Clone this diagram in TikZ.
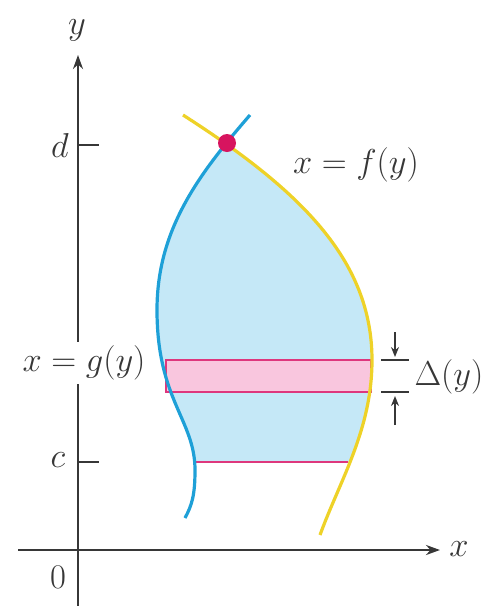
\documentclass[tikz,border=0pt]{standalone}
\usetikzlibrary{arrows.meta}
\definecolor{gblue}{RGB}{30,160,215}
\definecolor{fyellow}{RGB}{238,210,40}
\definecolor{regfill}{RGB}{197,232,247}
\definecolor{stripfill}{RGB}{249,198,222}
\definecolor{stripline}{RGB}{222,55,125}
\definecolor{dotcol}{RGB}{215,20,95}
\definecolor{axcol}{RGB}{55,55,55}
\begin{document}
\begin{tikzpicture}[x=0.5pt,y=-0.5pt,
  lbl/.style={font=\fontsize{18}{20}\selectfont, inner sep=1pt, text=axcol},
  axis/.style={draw=axcol, line width=1.4pt},
  curveg/.style={draw=gblue, line width=1.6pt},
  curvef/.style={draw=fyellow, line width=1.6pt},
  tickmark/.style={draw=axcol, line width=1.2pt},
  striprect/.style={draw=stripline, fill=stripfill, line width=1.4pt},
  deltaarrow/.style={draw=axcol, line width=1pt, -{Stealth[length=5pt,width=4pt]}}]
\useasboundingbox (0,0) rectangle (487,606);
% region fill: right of g, left of f, between c and d
\begin{scope}
  \clip (250,115) .. controls (198,175) and (157,230) .. (157,310)
        .. controls (157,400) and (195,420) .. (195,470)
        -- (195,600) -- (600,600) -- (600,0) -- (250,0) -- cycle;
  \clip (0,140) rectangle (600,462);
  \fill[regfill] (183,115) .. controls (300,190) and (372,260) .. (372,360)
        .. controls (372,430) and (340,480) .. (320,535)
        -- (0,535) -- (0,115) -- cycle;
\end{scope}
% axes
\coordinate (xs) at (18,550);
\coordinate (xe) at (440,550);
\coordinate (ys) at (78,606);
\coordinate (ye) at (78,55);
\draw[axis, -{Stealth[length=7pt,width=5pt]}] (xs) -- (xe);
\draw[axis, -{Stealth[length=7pt,width=5pt]}] (ys) -- (ye);
\node[lbl] (xlab) at (459,549) {$x$};
\node[lbl] (ylab) at (77,30) {$y$};
\node[lbl] (zero) at (58,577) {$0$};
% ticks
\coordinate (d0) at (78,145); \coordinate (d1) at (99,145);
\coordinate (c0) at (78,462); \coordinate (c1) at (99,462);
\draw[tickmark] (d0) -- (d1);
\draw[tickmark] (c0) -- (c1);
\node[lbl] (dlab) at (60,145) {$d$};
\node[lbl] (clab) at (58,460) {$c$};
% strip
\coordinate (s0) at (166,360); \coordinate (s1) at (371,392);
\draw[striprect] (s0) rectangle (s1);
\coordinate (cl0) at (195,462); \coordinate (cl1) at (348,462);
\draw[draw=stripline, line width=1.4pt] (cl0) -- (cl1);
% curves
\draw[curveg] (250,115) .. controls (198,175) and (157,230) .. (157,310)
        .. controls (157,400) and (195,420) .. (195,470)
        .. controls (195,495) and (192,505) .. (185,518);
\draw[curvef] (183,115) .. controls (300,190) and (372,260) .. (372,360)
        .. controls (372,430) and (340,480) .. (320,535);
% intersection dot
\coordinate (P) at (227,143);
\fill[dotcol] (P) circle (9);
% labels
\node[lbl] (flab) at (356,165) {$x = f(y)$};
\node[lbl, fill=white, inner sep=2pt] (glab) at (84,363) {$x = g(y)$};
% delta y
\coordinate (t0) at (381,360); \coordinate (t1) at (409,360);
\coordinate (b0) at (381,392); \coordinate (b1) at (409,392);
\draw[tickmark] (t0) -- (t1);
\draw[tickmark] (b0) -- (b1);
\coordinate (a0) at (395,332); \coordinate (a1) at (395,357);
\coordinate (a2) at (395,425); \coordinate (a3) at (395,396);
\draw[deltaarrow] (a0) -- (a1);
\draw[deltaarrow] (a2) -- (a3);
\node[lbl] (dlt) at (449,377) {$\Delta(y)$};
\end{tikzpicture}
\end{document}
